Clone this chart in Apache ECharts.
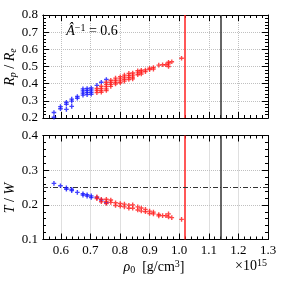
<!DOCTYPE html>
<html><head><meta charset="utf-8">
<script src="https://cdn.jsdelivr.net/npm/echarts@6/dist/echarts.min.js"></script>
<style>html,body{margin:0;padding:0;background:#fff}#c{width:283px;height:283px}</style>
</head><body><div id="c"></div>
<script>
// ---------- data ----------
const xTickValues = [0.6, 0.7, 0.8, 0.9, 1.0, 1.1, 1.2, 1.3];
const xMin = 0.54, xMax = 1.3;
const topYMin = 0.2, topYMax = 0.8;
const botYMin = 0.1, botYMax = 0.4;

const blueTopRho   = [0.577,0.577,0.599,0.599,0.619,0.619,0.619,0.637,0.637,0.637,0.656,0.656,0.675,0.675,0.675,0.675,0.689,0.689,0.689,0.689,0.703,0.703,0.703,0.703,0.722,0.737,0.754];
const blueTopRatio = [0.232,0.204,0.266,0.254,0.292,0.280,0.250,0.310,0.298,0.268,0.325,0.315,0.370,0.358,0.345,0.333,0.372,0.360,0.348,0.336,0.375,0.363,0.350,0.338,0.390,0.408,0.424];

const redTopRho   = [0.722,0.722,0.722,0.737,0.737,0.737,0.737,0.754,0.754,0.754,0.754,0.754,0.769,0.769,0.769,0.769,0.785,0.785,0.785,0.785,0.801,0.801,0.801,0.801,0.815,0.815,0.815,0.815,0.830,0.830,0.830,0.830,0.843,0.843,0.843,0.843,0.860,0.860,0.860,0.872,0.872,0.872,0.886,0.886,0.900,0.900,0.913,0.913,0.931,0.944,0.955,0.964,0.964,0.964,0.975,1.008];
const redTopRatio = [0.372,0.360,0.348,0.385,0.372,0.360,0.350,0.408,0.395,0.383,0.370,0.360,0.420,0.408,0.396,0.384,0.432,0.420,0.408,0.398,0.440,0.428,0.416,0.405,0.450,0.438,0.426,0.415,0.460,0.448,0.436,0.424,0.462,0.450,0.438,0.428,0.475,0.463,0.452,0.478,0.468,0.456,0.480,0.470,0.490,0.482,0.494,0.485,0.508,0.510,0.510,0.525,0.515,0.500,0.528,0.548];

const blueBotRho = [0.577,0.599,0.619,0.619,0.637,0.637,0.656,0.675,0.675,0.689,0.689,0.703,0.703,0.722,0.737,0.754];
const blueBotTW  = [0.262,0.255,0.249,0.245,0.245,0.241,0.236,0.232,0.228,0.229,0.225,0.226,0.221,0.221,0.214,0.206];

const redBotRho = [0.722,0.722,0.737,0.737,0.754,0.754,0.754,0.769,0.769,0.785,0.785,0.801,0.801,0.815,0.815,0.830,0.830,0.843,0.843,0.860,0.860,0.872,0.872,0.886,0.886,0.900,0.900,0.913,0.913,0.931,0.931,0.944,0.955,0.964,0.964,0.975,1.008];
const redBotTW  = [0.223,0.218,0.216,0.209,0.216,0.210,0.204,0.214,0.207,0.206,0.198,0.204,0.196,0.202,0.194,0.199,0.190,0.200,0.190,0.194,0.185,0.191,0.182,0.187,0.180,0.182,0.175,0.179,0.174,0.172,0.168,0.169,0.169,0.174,0.165,0.163,0.158];

const redLineRho = 1.021;
const blackLineRho = 1.138;
const twThreshold = 0.25;

// ---------- chart ----------
const FONT = 'Liberation Serif';
const zip = (a, b) => a.map((v, i) => [v, b[i]]);
const plus = 'path://M3.5,0H6.5V3.5H10V6.5H6.5V10H3.5V6.5H0V3.5H3.5Z';
const BLUE = '#1515ff', RED = '#ff1a1a';
const gridLine = { show: true, lineStyle: { color: '#c0c0c0', width: 1, type: 'dotted' } };

function xAxesFor(gi, labels) {
  const base = { type: 'value', gridIndex: gi, min: xMin, max: xMax,
    axisLine: { onZero: false, lineStyle: { color: '#000', width: 1 } },
    splitLine: { show: false }, axisLabel: { show: false } };
  const minorTick = { inside: true, length: 3, lineStyle: { color: '#000', width: 1 } };
  const majorTick = { inside: true, length: 6, customValues: xTickValues, lineStyle: { color: '#000', width: 1 } };
  return [
    Object.assign({}, base, { position: 'bottom', interval: 0.02, axisTick: minorTick }),
    Object.assign({}, base, { position: 'bottom', axisTick: majorTick, splitLine: gridLine,
      axisLabel: labels ? { show: true, customValues: xTickValues, formatter: v => v.toFixed(1),
        fontFamily: FONT, fontSize: 13, color: '#000', margin: 5 } : { show: false } }),
    Object.assign({}, base, { position: 'top', interval: 0.02, axisTick: minorTick }),
    Object.assign({}, base, { position: 'top', axisTick: majorTick })
  ];
}
function yAxesFor(gi, mn, mx) {
  const base = { type: 'value', gridIndex: gi, min: mn, max: mx, interval: 0.1,
    axisLine: { onZero: false, lineStyle: { color: '#000', width: 1 } },
    axisTick: { inside: true, length: 6, lineStyle: { color: '#000' } },
    minorTick: { show: true, splitNumber: 5, length: 3, lineStyle: { color: '#000' } } };
  return [
    Object.assign({}, base, { position: 'left', splitLine: gridLine,
      axisLabel: { formatter: v => v.toFixed(1), fontFamily: FONT, fontSize: 13, color: '#000', margin: 5 } }),
    Object.assign({}, base, { position: 'right', splitLine: { show: false }, axisLabel: { show: false } })
  ];
}
function scatter(data, color, xi, yi) {
  return { type: 'scatter', data, xAxisIndex: xi, yAxisIndex: yi, symbol: plus, symbolSize: 4.6,
    itemStyle: { color }, silent: true, animation: false, z: 5 };
}
function vlines(xi, yi, extra) {
  const data = [
    { xAxis: redLineRho, lineStyle: { color: '#ff2020', width: 1.5, type: 'solid' } },
    { xAxis: blackLineRho, lineStyle: { color: '#333', width: 1.5, type: 'solid' } }
  ].concat(extra || []);
  return { type: 'line', data: [], xAxisIndex: xi, yAxisIndex: yi, silent: true, animation: false,
    markLine: { symbol: 'none', silent: true, animation: false, label: { show: false }, data } };
}

const chart = echarts.init(document.getElementById('c'), null, { renderer: 'canvas' });
const rich = {
  i: { fontFamily: FONT, fontStyle: 'italic', fontSize: 14, color: '#000' },
  n: { fontFamily: FONT, fontSize: 14, color: '#000' },
  sub: { fontFamily: FONT, fontStyle: 'italic', fontSize: 10, color: '#000', padding: [6, 0, 0, 0] },
  sub0: { fontFamily: FONT, fontSize: 10, color: '#000', padding: [6, 0, 0, 0] },
  sup: { fontFamily: FONT, fontSize: 10, color: '#000', padding: [0, 0, 6, 0] }
};
chart.setOption({
  animation: false,
  grid: [
    { left: 43, top: 15, width: 225, height: 103 },
    { left: 43, top: 135.5, width: 225, height: 104 }
  ],
  xAxis: xAxesFor(0, false).concat(xAxesFor(1, true)),
  yAxis: yAxesFor(0, topYMin, topYMax).concat(yAxesFor(1, botYMin, botYMax)),
  series: [
    vlines(1, 0),
    scatter(zip(blueTopRho, blueTopRatio), BLUE, 1, 0),
    scatter(zip(redTopRho, redTopRatio), RED, 1, 0),
    vlines(5, 2, [{ yAxis: twThreshold, lineStyle: { color: '#333', width: 1, type: [5, 2, 1, 2] } }]),
    scatter(zip(blueBotRho, blueBotTW), BLUE, 5, 2),
    scatter(zip(redBotRho, redBotTW), RED, 5, 2)
  ],
  graphic: [
    { type: 'text', x: 10, y: 67, rotation: Math.PI / 2, z: 10,
      style: { text: '{i|R}{sub|p}{n| / }{i|R}{sub|e}', rich, align: 'center', verticalAlign: 'middle' } },
    { type: 'text', x: 10, y: 198, rotation: Math.PI / 2, z: 10,
      style: { text: '{i|T}{n| / }{i|W}', rich, align: 'center', verticalAlign: 'middle' } },
    { type: 'text', x: 92, y: 31, z: 10,
      style: { text: '{i|Â}{sup|−1}{n| = 0.6}', rich, align: 'center', verticalAlign: 'middle' } },
    { type: 'text', x: 154, y: 267, z: 10,
      style: { text: '{i|ρ}{sub0|0}{n|  [g/cm}{sup|3}{n|]}', rich, align: 'center', verticalAlign: 'middle' } },
    { type: 'text', x: 251, y: 266, z: 10,
      style: { text: '{n|×10}{sup|15}', rich, align: 'center', verticalAlign: 'middle' } }
  ]
});
</script></body></html>
